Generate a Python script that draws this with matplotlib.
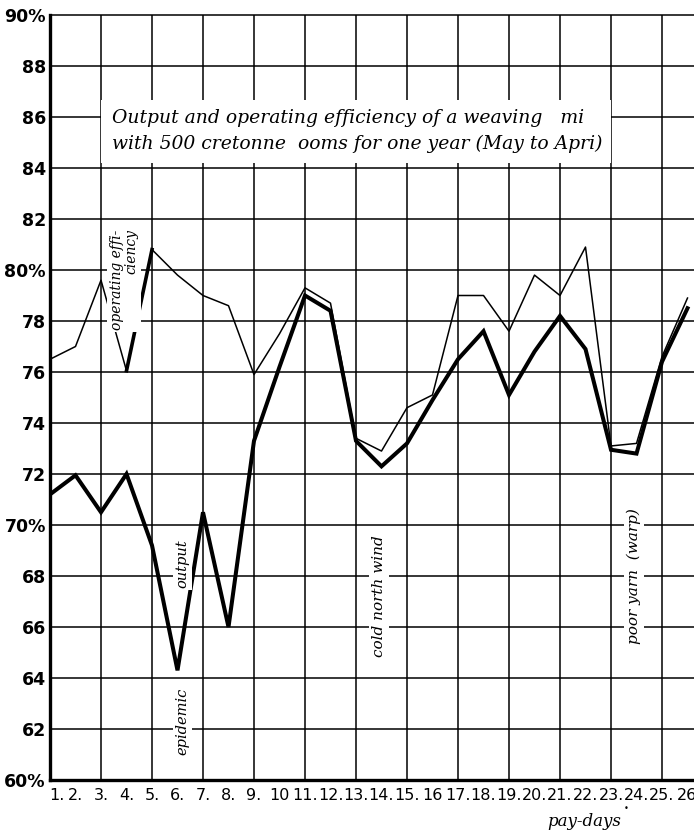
import matplotlib
matplotlib.use('Agg')
import matplotlib.pyplot as plt
import matplotlib.patches as patches
import matplotlib.transforms as mtransforms

# pay-days 1..26
paydays = list(range(1, 27))
# operating efficiency (thin line), %
efficiency = [76.5, 77.0, 79.6, 76.05, 80.8, 79.8, 79.0, 78.6, 75.9, 77.5,
              79.3, 78.7, 73.4, 72.9, 74.6, 75.1, 79.0, 79.0, 77.6, 79.8,
              79.0, 80.9, 73.1, 73.2, 76.6, 78.9]
# output (thick line), %
output = [71.2, 71.95, 70.5, 72.0, 69.2, 64.3, 70.5, 66.0, 73.3, 76.2,
          79.0, 78.4, 73.3, 72.3, 73.2, 74.9, 76.5, 77.6, 75.1, 76.8,
          78.2, 76.9, 72.95, 72.8, 76.4, 78.5]

ytick_vals = list(range(60, 91, 2))
ytick_labels = ['60%', '62', '64', '66', '68', '70%', '72', '74', '76', '78',
                '80%', '82', '84', '86', '88', '90%']
xtick_labels = ['1.', '2.', '3.', '4.', '5.', '6.', '7.', '8.', '9.', '10',
                '11.', '12.', '13.', '14.', '15.', '16', '17.', '18.', '19.', '20.',
                '21.', '22.', '23.', '24.', '25.', '26']

serif = 'DejaVu Serif'

fig = plt.figure(figsize=(6.94, 8.3), dpi=100)
ax = fig.add_axes([50/694, 50/830, 644/694, 765/830])
ax.set_xlim(1, 1 + 644/25.5)
ax.set_ylim(60, 90)

# raster
for y in ytick_vals[1:]:
    ax.axhline(y, color='black', lw=1.1, zorder=1, clip_on=False)
for x in range(3, 27, 2):
    ax.axvline(x, color='black', lw=1.1, zorder=1)

for s in ['top', 'right']:
    ax.spines[s].set_visible(False)
ax.spines['left'].set_linewidth(2.4)
ax.spines['bottom'].set_linewidth(2.4)

ax.set_yticks(ytick_vals)
ax.set_yticklabels(ytick_labels, fontsize=12.5, fontweight='bold')
ax.set_xticks(paydays)
ax.set_xticklabels(xtick_labels, fontsize=11.5)
ax.tick_params(length=0, pad=3)
ax.tick_params(axis='x', pad=6)
# '1.' staat iets rechts van de as
lab1 = ax.get_xticklabels()[0]
lab1.set_transform(lab1.get_transform() +
                   mtransforms.ScaledTranslation(7/100, 0, fig.dpi_scale_trans))

# de lijnen
ax.plot(paydays, efficiency, color='black', lw=1.1, zorder=3)
ax.plot(paydays[3:5], efficiency[3:5], color='black', lw=2.6, zorder=3)
ax.plot(paydays, output, color='black', lw=2.9, zorder=3, solid_joinstyle='miter')

# titel in wit vlak
titel = patches.Rectangle((3, 84.2), 20, 2.47, facecolor='white',
                          edgecolor='none', zorder=4)
ax.add_patch(titel)
ax.text(3.45, 85.45, 'Output and operating efficiency of a weaving   mi\n'
        'with 500 cretonne  ooms for one year (May to Apri)',
        fontsize=13.5, style='italic', family=serif, va='center', ha='left',
        linespacing=1.6, zorder=5)

wit = dict(facecolor='white', edgecolor='none', pad=2)
ax.text(3.9, 81.6, 'operating effi-\nciency', rotation=90, fontsize=10,
        style='italic', family=serif, ha='center', va='top',
        multialignment='right', linespacing=1.05, bbox=wit, zorder=5)
ax.text(6.2, 68.5, 'output', rotation=90, fontsize=10.5, style='italic',
        family=serif, ha='center', va='center', bbox=wit, zorder=5)
ax.text(6.2, 62.3, 'epidemic', rotation=90, fontsize=10.5, style='italic',
        family=serif, ha='center', va='center', bbox=wit, zorder=5)
ax.text(13.9, 67.2, 'cold north wind', rotation=90, fontsize=11, style='italic',
        family=serif, ha='center', va='center', bbox=wit, zorder=5)
ax.text(23.9, 68.0, 'poor yarn  (warp)', rotation=90, fontsize=11, style='italic',
        family=serif, ha='center', va='center', bbox=wit, zorder=5)

fig.text(584/694, 1 - 821/830, 'pay-days', fontsize=12, style='italic',
         family=serif, ha='center', va='center')
fig.text(626/694, 1 - 808/830, '•', fontsize=6, ha='center', va='center')

plt.savefig('out.png', dpi=100)
